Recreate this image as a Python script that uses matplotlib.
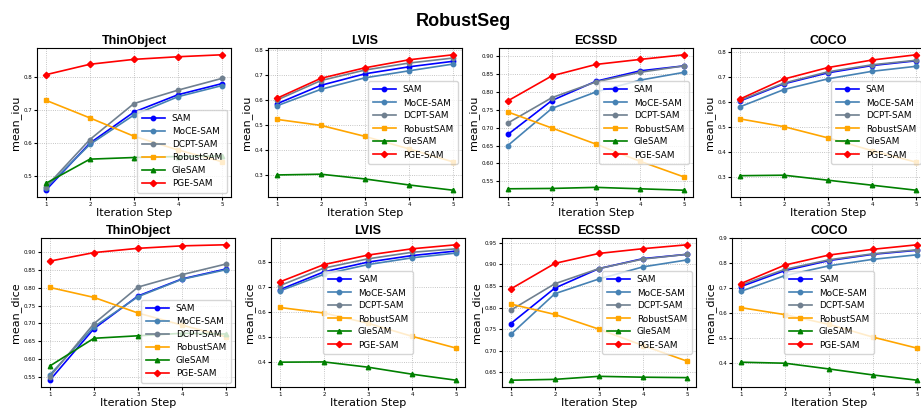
import numpy as np
import matplotlib
matplotlib.use('Agg')
import matplotlib.pyplot as plt

#--------------------------------------------------------------------------------------------------------------------------------
# Results per dataset: mean IoU (top row) and mean Dice (bottom row) over 5 click iterations
#--------------------------------------------------------------------------------------------------------------------------------

steps = [1, 2, 3, 4, 5]
datasets = ['ThinObject', 'LVIS', 'ECSSD', 'COCO']
methods = ['SAM', 'MoCE-SAM', 'DCPT-SAM', 'RobustSAM', 'GleSAM', 'PGE-SAM']

# mean_iou
iou_thinobject = {
    'SAM':       [0.455, 0.599, 0.694, 0.747, 0.781],
    'MoCE-SAM':  [0.462, 0.595, 0.685, 0.741, 0.775],
    'DCPT-SAM':  [0.465, 0.610, 0.720, 0.761, 0.797],
    'RobustSAM': [0.730, 0.676, 0.620, 0.578, 0.542],
    'GleSAM':    [0.476, 0.550, 0.555, 0.558, 0.560],
    'PGE-SAM':   [0.808, 0.840, 0.855, 0.863, 0.869],
}
iou_lvis = {
    'SAM':       [0.585, 0.659, 0.705, 0.733, 0.755],
    'MoCE-SAM':  [0.577, 0.643, 0.689, 0.717, 0.744],
    'DCPT-SAM':  [0.600, 0.678, 0.720, 0.748, 0.768],
    'RobustSAM': [0.523, 0.499, 0.455, 0.405, 0.353],
    'GleSAM':    [0.301, 0.304, 0.285, 0.261, 0.240],
    'PGE-SAM':   [0.607, 0.687, 0.729, 0.761, 0.781],
}
iou_ecssd = {
    'SAM':       [0.681, 0.776, 0.830, 0.859, 0.873],
    'MoCE-SAM':  [0.650, 0.754, 0.800, 0.833, 0.855],
    'DCPT-SAM':  [0.713, 0.784, 0.828, 0.855, 0.873],
    'RobustSAM': [0.744, 0.699, 0.654, 0.606, 0.562],
    'GleSAM':    [0.529, 0.530, 0.533, 0.529, 0.525],
    'PGE-SAM':   [0.775, 0.845, 0.877, 0.891, 0.904],
}
iou_coco = {
    'SAM':       [0.603, 0.672, 0.716, 0.745, 0.764],
    'MoCE-SAM':  [0.580, 0.649, 0.692, 0.722, 0.742],
    'DCPT-SAM':  [0.606, 0.675, 0.720, 0.748, 0.766],
    'RobustSAM': [0.532, 0.501, 0.456, 0.405, 0.359],
    'GleSAM':    [0.305, 0.307, 0.287, 0.267, 0.247],
    'PGE-SAM':   [0.611, 0.691, 0.737, 0.767, 0.788],
}

# mean_dice
dice_thinobject = {
    'SAM':       [0.540, 0.685, 0.777, 0.825, 0.853],
    'MoCE-SAM':  [0.555, 0.690, 0.775, 0.824, 0.851],
    'DCPT-SAM':  [0.550, 0.699, 0.802, 0.837, 0.867],
    'RobustSAM': [0.801, 0.773, 0.729, 0.695, 0.662],
    'GleSAM':    [0.580, 0.658, 0.665, 0.672, 0.670],
    'PGE-SAM':   [0.875, 0.899, 0.911, 0.918, 0.921],
}
dice_lvis = {
    'SAM':       [0.689, 0.760, 0.799, 0.825, 0.843],
    'MoCE-SAM':  [0.684, 0.750, 0.789, 0.816, 0.835],
    'DCPT-SAM':  [0.705, 0.775, 0.812, 0.838, 0.852],
    'RobustSAM': [0.618, 0.596, 0.555, 0.503, 0.456],
    'GleSAM':    [0.400, 0.401, 0.380, 0.352, 0.328],
    'PGE-SAM':   [0.720, 0.789, 0.827, 0.852, 0.868],
}
dice_ecssd = {
    'SAM':       [0.763, 0.845, 0.890, 0.913, 0.923],
    'MoCE-SAM':  [0.738, 0.832, 0.866, 0.894, 0.910],
    'DCPT-SAM':  [0.794, 0.855, 0.890, 0.912, 0.923],
    'RobustSAM': [0.808, 0.784, 0.750, 0.712, 0.676],
    'GleSAM':    [0.632, 0.634, 0.641, 0.639, 0.638],
    'PGE-SAM':   [0.843, 0.902, 0.925, 0.936, 0.945],
}
dice_coco = {
    'SAM':       [0.706, 0.770, 0.810, 0.835, 0.851],
    'MoCE-SAM':  [0.687, 0.750, 0.789, 0.815, 0.833],
    'DCPT-SAM':  [0.712, 0.775, 0.813, 0.837, 0.853],
    'RobustSAM': [0.622, 0.594, 0.555, 0.504, 0.460],
    'GleSAM':    [0.404, 0.400, 0.377, 0.353, 0.332],
    'PGE-SAM':   [0.718, 0.792, 0.832, 0.855, 0.873],
}

iou_results = [iou_thinobject, iou_lvis, iou_ecssd, iou_coco]
dice_results = [dice_thinobject, dice_lvis, dice_ecssd, dice_coco]

#--------------------------------------------------------------------------------------------------------------------------------
# Style per method
#--------------------------------------------------------------------------------------------------------------------------------

styles = {
    'SAM':       dict(color='blue', marker='o'),
    'MoCE-SAM':  dict(color='#4682b4', marker='o'),
    'DCPT-SAM':  dict(color='#708090', marker='o'),
    'RobustSAM': dict(color='orange', marker='s'),
    'GleSAM':    dict(color='green', marker='^'),
    'PGE-SAM':   dict(color='red', marker='D'),
}

iou_legend_loc = ['lower right', 'center right', 'center right', 'center right']
dice_legend_loc = ['lower right', 'center', 'center right', 'center']

#--------------------------------------------------------------------------------------------------------------------------------
# Layout (pixel boxes of the 8 panels on a 921x408 canvas)
#--------------------------------------------------------------------------------------------------------------------------------

W, H = 921, 408
fig = plt.figure(figsize=(W / 100, H / 100), dpi=100)

top_lefts = [37, 268, 499, 731]
bottom_lefts = [41, 271, 502, 732]
panel_w = 194
top_row = (48, 197)
bottom_row = (238, 387)


def add_panel(left, row):
    y0, y1 = row
    return fig.add_axes([left / W, 1 - y1 / H, panel_w / W, (y1 - y0) / H])


def draw_panel(ax, results, title, ylabel, legend_loc):
    for m in methods:
        ax.plot(steps, results[m], label=m, linewidth=1.2, markersize=3.2, **styles[m])
    ax.set_title(title, fontsize=9, fontweight='bold', family='Liberation Sans', pad=3)
    ax.set_xlabel('Iteration Step', fontsize=8, labelpad=1)
    ax.set_ylabel(ylabel, fontsize=8, labelpad=2)
    ax.set_xticks(steps)
    ax.tick_params(labelsize=4, length=2, pad=1.5)
    ax.grid(True, linestyle=':', color='gray', alpha=0.6, linewidth=0.6)
    ax.legend(loc=legend_loc, fontsize=6.4, handlelength=2.6, labelspacing=0.45,
              borderpad=0.5, handletextpad=0.8)


for i, name in enumerate(datasets):
    ax = add_panel(top_lefts[i], top_row)
    draw_panel(ax, iou_results[i], name, 'mean_iou', iou_legend_loc[i])

    ax = add_panel(bottom_lefts[i], bottom_row)
    draw_panel(ax, dice_results[i], name, 'mean_dice', dice_legend_loc[i])

fig.text(463 / W, 1 - 22 / H, 'RobustSeg', ha='center', va='center',
         fontsize=13, fontweight='bold', family='Liberation Sans')

fig.savefig('out.png', dpi=100)
